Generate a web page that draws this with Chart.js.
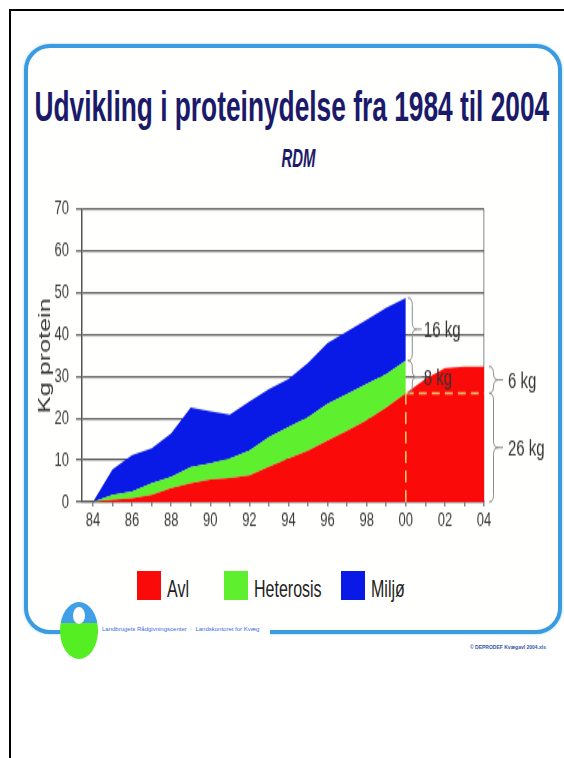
<!DOCTYPE html>
<html>
<head>
<meta charset="utf-8">
<script src="https://cdn.jsdelivr.net/npm/chart.js@4/dist/chart.umd.min.js"></script>
<style>
  html, body { margin: 0; padding: 0; background: #fff; }
  body { width: 564px; height: 758px; position: relative; overflow: hidden;
         font-family: 'Liberation Sans', Arial, sans-serif; }
  #frame { position: absolute; left: 9px; top: 9px; width: 620px; height: 820px; border: 2px solid #000; }
  #card { position: absolute; left: 24px; top: 44px; width: 530px; height: 582px;
          border: 4px solid #3b9be0; border-radius: 26px; background: #fffffd;
          box-shadow: 0 0 3px #9fd0f2; }
  #gap { position: absolute; left: 98px; top: 624px; width: 172px; height: 12px; background: #fff; }
  #foot1 { position: absolute; left: 102px; top: 626px; font-size: 6px; color: #3a6ed8; white-space: nowrap; }
  #foot2 { position: absolute; left: 470px; top: 644px; font-size: 5px; color: #3355aa; white-space: nowrap; font-weight: bold; }
  #logo { position: absolute; left: 60px; top: 602px; width: 38px; height: 57px; border-radius: 50%;
          background: linear-gradient(to bottom, #3fa0e8 0 36%, #55ee22 36%); }
  #logo div { position: absolute; left: 13px; top: 5px; width: 12px; height: 17px; border-radius: 50%; background: #fff; }
  .stretch { position: absolute; white-space: nowrap; font-weight: bold; color: #1b1a6a; transform-origin: center; }
  #title { top: 86px; font-size: 42px; line-height: 42px; }
  #sub { top: 146px; font-size: 25px; line-height: 25px; font-style: italic; }
  #chartBox { position: absolute; left: 20px; top: 187px; width: 540px; height: 235.3px;
              transform: scaleY(1.5); transform-origin: top left; }
  #legend { position: absolute; top: 571px; left: 0; width: 564px; height: 30px; }
  .lg { position: absolute; top: 0; height: 30px; }
  .lg i { position: absolute; left: 0; top: 0; width: 24px; height: 29px; }
  .lg span { position: absolute; left: 30px; top: 5px; font-size: 16px; line-height: 18px; color: #222;
             white-space: nowrap; transform: scaleY(1.5); transform-origin: left top; }
</style>
</head>
<body>
<div id="frame"></div>
<div id="card"></div>
<div id="gap"></div>
<div id="logo"><div></div></div>
<div id="foot1">Landbrugets Rådgivningscenter &nbsp;·&nbsp; Landskontoret for Kvæg</div>
<div id="foot2">© DEPRODEF Kvægavl 2004.xls</div>
<div id="title" class="stretch">Udvikling i proteinydelse fra 1984 til 2004</div>
<div id="sub" class="stretch">RDM</div>
<div id="chartBox"><canvas id="chart"></canvas></div>
<div id="legend"></div>

<script>
// years written as 84..104 (104 = 2004)
const years = [84, 85, 86, 87, 88, 89, 90, 91, 92, 93, 94, 95, 96, 97, 98, 99, 100];
const yearsAvl = [84, 85, 86, 87, 88, 89, 90, 91, 92, 93, 94, 95, 96, 97, 98, 99, 100, 101, 102, 103, 104];

// kg protein
const avl = [0, 0.5, 0.9, 1.7, 3.3, 4.5, 5.4, 5.7, 6.4, 8.4, 10.4, 12.3, 14.7, 17.0, 19.5, 22.6, 26.0, 29.4, 32.0, 32.4, 32.4];
const heterosis = [0, 1.2, 1.6, 2.8, 2.7, 3.8, 3.8, 4.7, 5.9, 7.1, 7.5, 8.0, 8.8, 8.8, 8.7, 8.0, 7.8];
const miljo = [0, 6.1, 8.7, 8.3, 10.4, 14.3, 12.5, 10.5, 11.7, 11.5, 11.5, 13.0, 14.5, 15.0, 15.4, 15.8, 15.0];

const seriesNames = ['Avl', 'Heterosis', 'Miljø'];
const seriesColors = ['#fb0a0a', '#5ef02e', '#0a1ae6'];

const yTicks = [0, 5, 10, 15, 20, 25, 30, 35, 40, 45, 50, 55, 60, 65, 70];
const xTicks = [84, 85, 86, 87, 88, 89, 90, 91, 92, 93, 94, 95, 96, 97, 98, 99, 100, 101, 102, 103, 104];

// reference lines at 2000 / 26 kg
const refYear = 100;
const refLevel = 26;

// brace annotations [from, to, label]
const bracesAt2000 = [[33.8, 48.8, '16 kg'], [26, 33.8, '8 kg']];
const bracesAt2004 = [[26, 32.4, '6 kg'], [0, 26, '26 kg']];

const FONT = "'Liberation Sans', Arial, sans-serif";

function pts(xs, ys) {
    return ys.map((v, i) => ({ x: xs[i], y: v }));
}

// the slide is squeezed sideways: fit the headings to the width they have in the picture
function fitText(id, width, center) {
    const el = document.getElementById(id);
    const w = el.offsetWidth;
    el.style.left = (center - w / 2) + 'px';
    el.style.transform = 'scaleX(' + (width / w) + ')';
}
fitText('title', 515, 292);
fitText('sub', 34, 298);

// html legend
const legend = document.getElementById('legend');
const legendX = [137, 224, 341];
seriesNames.forEach((name, i) => {
    const d = document.createElement('div');
    d.className = 'lg';
    d.style.left = legendX[i] + 'px';
    d.innerHTML = '<i style="background:' + seriesColors[i] + '"></i><span>' + name + '</span>';
    legend.appendChild(d);
});

function drawBrace(ctx, x, yTop, yBot, w) {
    const mid = (yTop + yBot) / 2;
    const r = Math.min(w * 0.5, (yBot - yTop) / 4);
    ctx.beginPath();
    ctx.moveTo(x, yTop);
    ctx.quadraticCurveTo(x + w / 2, yTop, x + w / 2, yTop + r);
    ctx.lineTo(x + w / 2, mid - r);
    ctx.quadraticCurveTo(x + w / 2, mid, x + w, mid);
    ctx.quadraticCurveTo(x + w / 2, mid, x + w / 2, mid + r);
    ctx.lineTo(x + w / 2, yBot - r);
    ctx.quadraticCurveTo(x + w / 2, yBot, x, yBot);
    ctx.moveTo(x + w, mid);
    ctx.lineTo(x + w + 5, mid);
    ctx.stroke();
}

const bracePlugin = {
    id: 'braces',
    afterDatasetsDraw(chart) {
        const { ctx, scales: { x, y } } = chart;
        ctx.save();
        ctx.strokeStyle = '#8a8a8a';
        ctx.lineWidth = 1;
        ctx.fillStyle = '#333';
        ctx.font = '15px ' + FONT;
        ctx.textBaseline = 'middle';
        const x1 = x.getPixelForValue(refYear) + 2;
        bracesAt2000.forEach(b => {
            drawBrace(ctx, x1, y.getPixelForValue(b[1]), y.getPixelForValue(b[0]), 9);
            ctx.fillText(b[2], x1 + 16, y.getPixelForValue((b[0] + b[1]) / 2) + 1);
        });
        const x2 = x.right + 5;
        bracesAt2004.forEach(b => {
            drawBrace(ctx, x2, y.getPixelForValue(b[1]), y.getPixelForValue(b[0]), 9);
            ctx.fillText(b[2], x2 + 19, y.getPixelForValue((b[0] + b[1]) / 2) + 1);
        });
        ctx.restore();
    }
};

const areaStyle = { borderWidth: 0, pointRadius: 0, tension: 0, stack: 'main', order: 1 };
const dashStyle = { borderColor: '#f7c46a', borderWidth: 1.6, borderDash: [8, 5], pointRadius: 0, fill: false, order: 0 };

new Chart(document.getElementById('chart'), {
    type: 'line',
    data: {
        datasets: [
            { label: seriesNames[0], data: pts(yearsAvl, avl), backgroundColor: seriesColors[0], fill: 'origin', ...areaStyle },
            { label: seriesNames[1], data: pts(years, heterosis), backgroundColor: seriesColors[1], fill: '-1', ...areaStyle },
            { label: seriesNames[2], data: pts(years, miljo), backgroundColor: seriesColors[2], fill: '-1', ...areaStyle },
            { label: 'v', data: [{ x: refYear, y: 0 }, { x: refYear, y: refLevel }], stack: 'v', ...dashStyle },
            { label: 'h', data: [{ x: refYear, y: refLevel }, { x: 104, y: refLevel }], stack: 'h', ...dashStyle }
        ]
    },
    options: {
        responsive: true,
        maintainAspectRatio: false,
        animation: false,
        layout: { padding: { top: 3, right: 76, bottom: 0, left: 0 } },
        plugins: {
            legend: { display: false },
            tooltip: { enabled: false }
        },
        scales: {
            x: {
                type: 'linear',
                min: 83.44,
                max: 104,
                afterBuildTicks: s => { s.ticks = xTicks.map(v => ({ value: v })); },
                afterFit: s => { s.height = 25.3; },
                ticks: {
                    autoSkip: false,
                    maxRotation: 0,
                    padding: 2,
                    color: '#3a3a3a',
                    font: { family: FONT, size: 13 },
                    callback: v => (v % 2 === 0 ? String(v % 100).padStart(2, '0') : '')
                },
                grid: {
                    color: c => (c.tick && c.tick.value === 104 ? '#b0b0b0' : 'transparent'),
                    tickColor: '#888',
                    tickLength: 3,
                    lineWidth: 1.5
                },
                border: { color: '#555', width: 1.2 }
            },
            y: {
                stacked: true,
                min: 0,
                max: 70,
                afterBuildTicks: s => { s.ticks = yTicks.map(v => ({ value: v })); },
                afterFit: s => { s.width = 62; },
                title: {
                    display: true,
                    text: 'Kg protein',
                    color: '#333',
                    font: { family: FONT, size: 16.8 },
                    padding: { top: 15, bottom: 0 }
                },
                ticks: {
                    padding: 7,
                    color: '#3a3a3a',
                    font: { family: FONT, size: 13 },
                    callback: v => (v % 10 === 0 ? v : '')
                },
                grid: {
                    color: c => (c.tick && c.tick.value % 10 === 0 ? '#5a5a5a' : 'transparent'),
                    tickColor: '#666',
                    tickLength: 6,
                    lineWidth: 1.3
                },
                border: { color: '#555', width: 1.5 }
            }
        }
    },
    plugins: [bracePlugin]
});
</script>
</body>
</html>
